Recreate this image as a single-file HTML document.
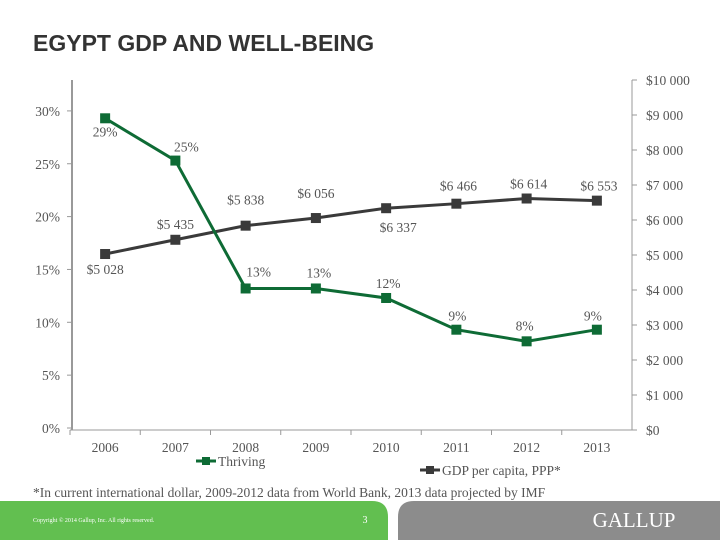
<!DOCTYPE html>
<html><head><meta charset="utf-8"><style>
body{margin:0;width:720px;height:540px;background:#fff;overflow:hidden;position:relative;font-family:"Liberation Serif",serif}
#title{position:absolute;left:33px;top:30px;font:bold 23px "Liberation Sans",sans-serif;color:#333}
svg{position:absolute;left:0;top:0}
.t{font-family:"Liberation Serif",serif;font-size:13.5px;fill:#555}
</style></head><body>
<div id="title">EGYPT GDP AND WELL-BEING</div>
<svg id="c" width="720" height="540"></svg>
<script>
const years=["2006","2007","2008","2009","2010","2011","2012","2013"];
const thriving=[29.3,25.3,13.2,13.2,12.3,9.3,8.2,9.3];
const thrivingLabels=["29%","25%","13%","13%","12%","9%","8%","9%"];
const gdp=[5028,5435,5838,6056,6337,6466,6614,6553];
const gdpLabels=["$5 028","$5 435","$5 838","$6 056","$6 337","$6 466","$6 614","$6 553"];
const leftTicks=[0,5,10,15,20,25,30];
const rightTicks=[0,1000,2000,3000,4000,5000,6000,7000,8000,9000,10000];
const NS="http://www.w3.org/2000/svg",s=document.getElementById('c');
function el(t,a,txt){const e=document.createElementNS(NS,t);for(const k in a)e.setAttribute(k,a[k]);if(txt!=null)e.textContent=txt;s.appendChild(e);return e;}
const x0=70,x1=632,step=(x1-x0)/years.length;
const xs=i=>x0+(i+0.5)*step, yL=v=>428-v*10.57, yR=v=>430-v*0.035;
let e;
e=el('line',{x1:72,y1:80,x2:72,y2:430,stroke:'#999','stroke-width':2});

e=el('line',{x1:x1,y1:80,x2:x1,y2:430,stroke:'#999','stroke-width':1});

e=el('line',{x1:x0,y1:430,x2:x1,y2:430,stroke:'#999','stroke-width':1});

leftTicks.forEach(v=>{el('line',{x1:67,y1:yL(v),x2:72,y2:yL(v),stroke:'#999'});
 e=el('text',{x:60,y:yL(v)+5,'text-anchor':'end',class:'t'},v+'%');
 });
rightTicks.forEach(v=>{el('line',{x1:x1,y1:yR(v),x2:x1+5,y2:yR(v),stroke:'#999'});
 e=el('text',{x:646,y:yR(v)+5,class:'t'},'$'+(v>=1000?Math.floor(v/1000)+' 000':v));
 });
years.forEach((y,i)=>{el('line',{x1:x0+i*step,y1:430,x2:x0+i*step,y2:435,stroke:'#999'});
 e=el('text',{x:xs(i),y:452,'text-anchor':'middle',class:'t'},y);
 });
function series(vals,yf,col,name){
 e=el('polyline',{points:vals.map((v,i)=>xs(i)+','+yf(v)).join(' '),fill:'none',stroke:col,'stroke-width':3});
 
 vals.forEach((v,i)=>{e=el('rect',{x:xs(i)-5,y:yf(v)-5,width:10,height:10,fill:col});
 });
}
series(gdp,yR,'#3a3a3a','gdp');
series(thriving,yL,'#0e6b35','thriving');
const tOff=[[0,18],[11,-9],[13,-12],[3,-11],[2,-10],[1,-9],[-2,-11],[-4,-9]];
thrivingLabels.forEach((l,i)=>{e=el('text',{x:xs(i)+tOff[i][0],y:yL(thriving[i])+tOff[i][1],'text-anchor':'middle',class:'t'},l);
 });
const gOff=[[0,20],[0,-11],[0,-21],[0,-20],[12,24],[2,-13],[2,-10],[2,-10]];
gdpLabels.forEach((l,i)=>{e=el('text',{x:xs(i)+gOff[i][0],y:yR(gdp[i])+gOff[i][1],'text-anchor':'middle',class:'t'},l);
 });
e=el('line',{x1:196,y1:461,x2:216,y2:461,stroke:'#0e6b35','stroke-width':3});
el('rect',{x:202,y:457,width:8,height:8,fill:'#0e6b35'});
e=el('text',{x:218,y:466,class:'t','font-size':'15'},'Thriving');
e=el('line',{x1:420,y1:470,x2:440,y2:470,stroke:'#3a3a3a','stroke-width':3});
el('rect',{x:426,y:466,width:8,height:8,fill:'#3a3a3a'});
e=el('text',{x:442,y:475,class:'t','font-size':'15'},'GDP per capita, PPP*');
e=el('text',{x:33,y:497,class:'t','font-size':'10.5',fill:'#333'},'*In current international dollar, 2009-2012 data from World Bank, 2013 data projected  by IMF');

e=el('path',{d:'M0 501 H372 Q388 501 388 517 V540 H0 Z',fill:'#62bf50'});
e=el('path',{d:'M414 501 H720 V540 H398 V517 Q398 501 414 501 Z',fill:'#8c8c8c'});
e=el('text',{x:33,y:522,'font-size':'6',fill:'#fff','font-family':'Liberation Serif,serif'},'Copyright © 2014 Gallup, Inc. All rights reserved.');
e=el('text',{x:365,y:523,'font-size':'10',fill:'#fff','text-anchor':'middle'},'3');
e=el('text',{x:634,y:527,'font-size':'21',fill:'#fff','text-anchor':'middle','font-family':'Liberation Serif,serif'},'GALLUP');
</script>
</body></html>
